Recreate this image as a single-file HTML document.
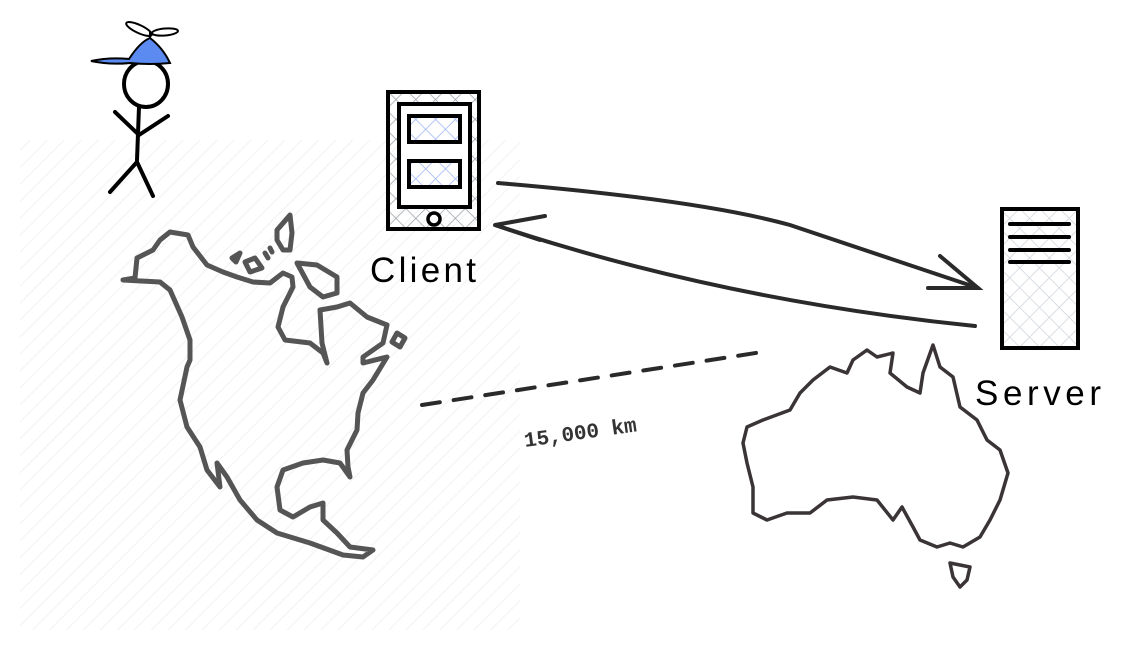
<!DOCTYPE html>
<html><head><meta charset="utf-8"><style>
html,body{margin:0;padding:0;background:#fff;}
svg{display:block;}
</style></head><body>
<svg width="1122" height="654" viewBox="0 0 1122 654" xmlns="http://www.w3.org/2000/svg">
<defs>
<pattern id="bg" width="12" height="12" patternUnits="userSpaceOnUse" patternTransform="rotate(45)">
<line x1="0" y1="0" x2="0" y2="12" stroke="#f2f2f2" stroke-width="2"/>
</pattern>
<pattern id="xh" width="14" height="14" patternUnits="userSpaceOnUse" patternTransform="rotate(45)">
<line x1="0" y1="0" x2="0" y2="14" stroke="#9aa0a8" stroke-width="1.5"/>
<line x1="0" y1="0" x2="14" y2="0" stroke="#9aa0a8" stroke-width="1.5"/>
</pattern>
<pattern id="xhl" width="14" height="14" patternUnits="userSpaceOnUse" patternTransform="rotate(45)">
<line x1="0" y1="0" x2="0" y2="14" stroke="#cfd4da" stroke-width="1.5"/>
<line x1="0" y1="0" x2="14" y2="0" stroke="#cfd4da" stroke-width="1.5"/>
</pattern>
<pattern id="xhb" width="14" height="14" patternUnits="userSpaceOnUse" patternTransform="rotate(45)">
<line x1="0" y1="0" x2="0" y2="14" stroke="#9db4f5" stroke-width="1.5"/>
<line x1="0" y1="0" x2="14" y2="0" stroke="#9db4f5" stroke-width="1.5"/>
</pattern>
</defs>
<rect x="20" y="140" width="500" height="490" fill="url(#bg)"/>

<!-- North America -->
<g fill="none" stroke="#555" stroke-width="5" stroke-linejoin="round" stroke-linecap="round">
<path d="M123,280 L135,278 L137,258 L153,250 L160,240 L170,232 L188,235 L193,247 L207,265 L223,272 L237,277 L253,282 L270,283 L283,273 L292,277 L293,287 L283,307 L278,327 L285,340 L310,343 L323,353 L327,363 L322,343 L320,310 L337,307 L350,303 L367,317 L387,325 L383,343 L363,357 L363,363 L387,357 L373,380 L363,393 L358,413 L357,430 L347,450 L348,467 L350,477 L340,463 L323,460 L303,463 L283,470 L277,487 L280,510 L293,517 L310,507 L323,503 L323,520 L337,533 L350,547 L373,550 L363,557 L343,555 L310,543 L277,533 L257,520 L240,500 L227,477 L217,463 L220,487 L207,470 L200,447 L187,427 L180,400 L187,367 L190,360 L190,340 L182,317 L170,290 L160,282 Z"/>
<path d="M277,230 L290,215 L292,233 L290,250 L283,250 L277,240 Z"/>
<path d="M297,263 L317,265 L337,277 L337,293 L323,297 L310,287 Z"/>
<path d="M245,262 L255,258 L262,268 L250,272 Z"/>
<path d="M232,258 L240,253 L236,262 Z"/>
<path d="M397,333 L405,338 L400,347 L392,342 Z"/>
<path d="M265,253 L268,258 M270,248 L272,252"/>
</g>

<!-- Australia -->
<g fill="none" stroke="#3a3436" stroke-width="3.5" stroke-linejoin="round">
<path d="M747,427 L763,420 L790,410 L800,393 L813,380 L830,367 L847,373 L853,360 L867,350 L877,357 L893,353 L890,373 L907,387 L920,393 L923,373 L933,345 L940,367 L953,377 L960,407 L977,420 L987,440 L1000,450 L1008,473 L1000,500 L990,520 L980,537 L963,547 L950,543 L937,547 L920,540 L913,527 L902,507 L893,520 L877,500 L853,497 L827,500 L810,513 L787,513 L767,520 L753,513 L753,487 L747,463 L743,443 Z"/>
<path d="M950,563 L970,567 L967,580 L960,587 L953,577 Z"/>
</g>

<!-- stick figure -->
<g fill="none" stroke="#000" stroke-width="4" stroke-linecap="round">
<ellipse cx="146" cy="84" rx="22" ry="23"/>
<path d="M139,107 L137,160"/>
<path d="M115,112 L139,135 L168,116"/>
<path d="M110,192 L137,162 L153,196"/>
</g>
<path d="M91,61 Q110,57 129,59 Q140,42 150,38 Q163,48 170,63 Q150,65 130,63 Q110,65 91,61 Z" fill="#5b8af0" stroke="#000" stroke-width="2"/>
<g fill="#fff" stroke="#000" stroke-width="2">
<ellipse cx="139" cy="29" rx="14" ry="4" transform="rotate(25 139 29)"/>
<ellipse cx="165" cy="32" rx="13" ry="3.5" transform="rotate(-5 165 32)"/>
<line x1="150" y1="32" x2="150" y2="39"/>
</g>

<!-- Client -->
<rect x="388" y="92" width="91" height="137" fill="url(#xh)" stroke="#000" stroke-width="4"/>
<rect x="399" y="104" width="71" height="103" fill="#fff" stroke="#000" stroke-width="4"/>
<rect x="409" y="116" width="51" height="26" fill="url(#xhb)" stroke="#000" stroke-width="4"/>
<rect x="409" y="161" width="51" height="26" fill="url(#xhb)" stroke="#000" stroke-width="4"/>
<circle cx="434" cy="219" r="6" fill="#fff" stroke="#000" stroke-width="3.5"/>
<text x="370" y="282" font-family="Liberation Sans, sans-serif" font-size="35" fill="#000" textLength="106">Client</text>

<!-- Server -->
<rect x="1002" y="209" width="76" height="139" fill="url(#xhl)" stroke="#000" stroke-width="4"/>
<g stroke="#000" stroke-width="4" stroke-linecap="round">
<line x1="1010" y1="224" x2="1069" y2="224"/>
<line x1="1010" y1="237" x2="1069" y2="237"/>
<line x1="1010" y1="250" x2="1069" y2="250"/>
<line x1="1010" y1="262" x2="1069" y2="262"/>
</g>
<text x="975" y="405" font-family="Liberation Sans, sans-serif" font-size="35" fill="#000" textLength="126">Server</text>

<!-- arrows -->
<g fill="none" stroke="#2a2a2a" stroke-width="4" stroke-linecap="round">
<path d="M498,183 Q700,200 790,225 Q880,255 978,288"/>
<path d="M940,256 L978,288 L928,288"/>
<path d="M975,326 Q720,300 495,225"/>
<path d="M545,216 L495,225 L540,240"/>
<path d="M422,405 L762,352" stroke-dasharray="18,14"/>
</g>
<text x="525" y="447" font-family="Liberation Mono, monospace" font-size="21" font-weight="bold" fill="#333" transform="rotate(-8 525 447)">15,000 km</text>
</svg>
</body></html>
